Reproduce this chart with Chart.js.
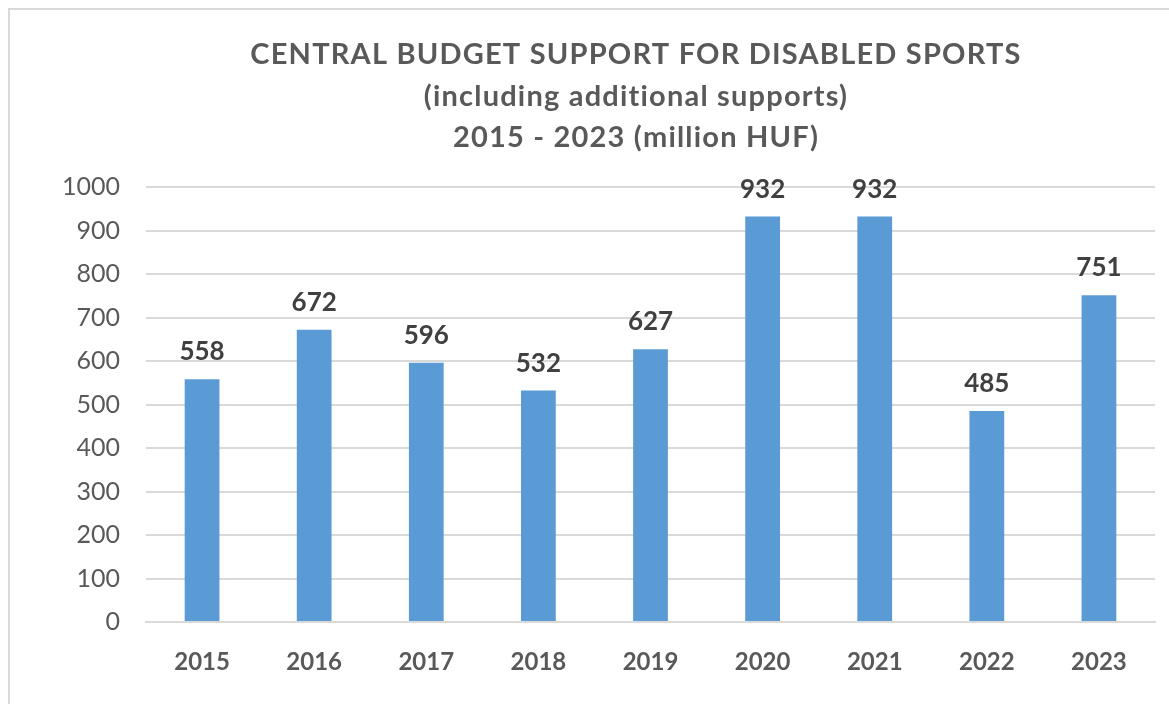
<!DOCTYPE html>
<html>
<head>
<meta charset="utf-8">
<script src="https://cdn.jsdelivr.net/npm/chart.js@4/dist/chart.umd.min.js"></script>
<style>
  html, body { margin: 0; padding: 0; background: #fff; overflow: hidden; }
  #frame { position: absolute; left: 8px; top: 8px; width: 1300px; height: 800px; border: 2px solid #d9d9d9; }
  #wrap { position: absolute; left: 0; top: 0; width: 1169px; height: 704px; }
</style>
</head>
<body>
<div id="frame"></div>
<div id="wrap"><canvas id="canvasGrafico"></canvas></div>
<script>
const anos = ['2015', '2016', '2017', '2018', '2019', '2020', '2021', '2022', '2023'];
const valores = [558, 672, 596, 532, 627, 932, 932, 485, 751];
const titulo = [
  'CENTRAL BUDGET SUPPORT FOR DISABLED SPORTS',
  '(including additional supports)',
  '2015 - 2023 (million HUF)'
];

// título desenhado à mão (centro deslocado como no original)
const tituloPlugin = {
  id: 'tituloPlugin',
  afterDraw(chart) {
    const ctx = chart.ctx;
    ctx.save();
    ctx.font = 'bold 29px Lato';
    ctx.fillStyle = '#595959';
    ctx.textAlign = 'center';
    ctx.textBaseline = 'middle';
    if ('letterSpacing' in ctx) ctx.letterSpacing = '1.2px';
    const ys = [55, 97, 138];
    titulo.forEach(function (linha, i) {
      ctx.fillText(linha, 636, ys[i]);
    });
    ctx.restore();
  }
};

// rótulos em cima das barras
const rotulos = {
  id: 'rotulos',
  afterDatasetsDraw(chart) {
    const ctx = chart.ctx;
    const meta = chart.getDatasetMeta(0);
    ctx.save();
    ctx.font = 'bold 26px Lato';
    ctx.fillStyle = '#404040';
    ctx.textAlign = 'center';
    ctx.textBaseline = 'alphabetic';
    meta.data.forEach(function (bar, i) {
      ctx.fillText(valores[i], bar.x, bar.y - 19);
    });
    ctx.restore();
  }
};

const data = {
  labels: anos,
  datasets: [{
    data: valores,
    backgroundColor: '#5B9BD5',
    barPercentage: 0.31,
    categoryPercentage: 1
  }]
};

const config = {
  type: 'bar',
  data: data,
  plugins: [rotulos, tituloPlugin],
  options: {
    responsive: true,
    maintainAspectRatio: false,
    animation: false,
    layout: {
      padding: { left: 0, right: 14, top: 187, bottom: 0 }
    },
    plugins: {
      legend: { display: false },
      tooltip: { enabled: false },
      title: { display: false }
    },
    scales: {
      x: {
        grid: { display: false },
        border: { color: '#d9d9d9', width: 2 },
        ticks: { color: '#595959', font: { family: 'Lato', size: 24, weight: 'bold' }, padding: 18 },
        afterFit: function (scale) { scale.height = 82; }
      },
      y: {
        min: 0,
        max: 1000,
        ticks: {
          stepSize: 100,
          color: '#595959',
          font: { family: 'Lato', size: 25 },
          padding: 26,
          callback: function (v) { return String(v); }
        },
        grid: { color: '#d9d9d9', lineWidth: 2, drawTicks: false },
        border: { display: false },
        afterFit: function (scale) { scale.width = 146; }
      }
    }
  }
};

const graficoDash = new Chart(document.getElementById('canvasGrafico'), config);
</script>
</body>
</html>
